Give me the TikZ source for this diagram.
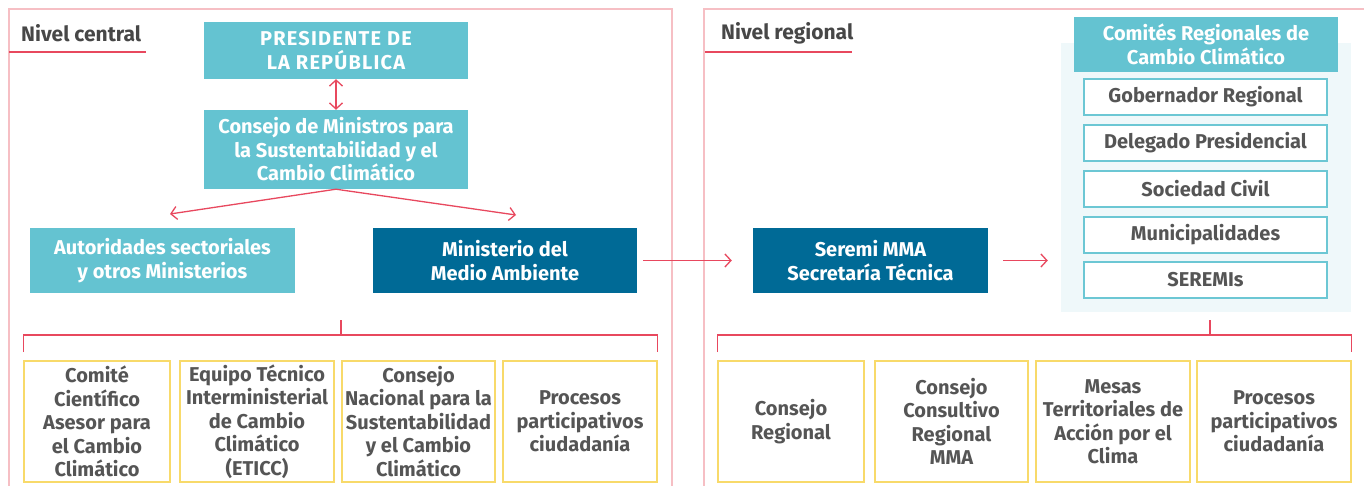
\documentclass[tikz,border=0pt]{standalone}
\usepackage{fontspec}
\setmainfont{Fira Sans}
\usetikzlibrary{arrows.meta}
\definecolor{cteal}{HTML}{64C3D1}
\definecolor{cdark}{HTML}{006A96}
\definecolor{cpink}{HTML}{F6BFC4}
\definecolor{cred}{HTML}{E8485E}
\definecolor{cyel}{HTML}{F8DA6A}
\definecolor{cgrey}{HTML}{555555}
\definecolor{clabel}{HTML}{474747}
\definecolor{cbg}{HTML}{EFF8FA}
\definecolor{cbox}{HTML}{6CC7D4}
\tikzset{
  box/.style={rectangle, inner sep=0pt, align=center, font=\bfseries\fontsize{20}{23.5}\selectfont},
  tealbox/.style={box, fill=cteal, text=white},
  darkbox/.style={box, fill=cdark, text=white},
  whitebox/.style={box, fill=white, draw=cbox, line width=1.5pt, text=cgrey, minimum width=243pt, minimum height=36pt},
  yelbox/.style={box, draw=cyel, line width=1.5pt, text=cgrey, minimum height=121pt},
  lvl/.style={inner sep=0pt, anchor=west, font=\bfseries\fontsize{21}{24}\selectfont, text=clabel},
  panel/.style={draw=cpink, line width=1.3pt},
  uline/.style={draw=cred, line width=2.5pt},
  conn/.style={draw=cred, line width=1.3pt},
  tip/.style={arrows={-Straight Barb[length=6pt,width=13pt]}},
  dtip/.style={arrows={Straight Barb[length=6pt,width=13pt]-Straight Barb[length=6pt,width=13pt]}}
}
\begin{document}
\begin{tikzpicture}[x=1pt,y=-1pt]
\useasboundingbox (0,0) rectangle (1364,486);
\clip (0,0) rectangle (1364,486);
\fill[white] (0,0) rectangle (1364,486);
% panels
\draw[panel] (9,492) -- (9,9) -- (672,9) -- (672,492);
\draw[panel] (704,492) -- (704,9) -- (1370,9);
% level labels
\node[lvl] (lc) at (21,33) {Nivel central};
\draw[uline] (9,52) -- (146,52);
\node[lvl] (lr) at (721,33) {Nivel regional};
\draw[uline] (705,52) -- (852,52);
% central nodes
\node[tealbox, minimum width=264pt, minimum height=57pt] (pres) at (336,50.5)
  {\addfontfeatures{LetterSpace=6}PRESIDENTE DE\\\addfontfeatures{LetterSpace=6}LA REPÚBLICA};
\node[tealbox, minimum width=264pt, minimum height=79pt] (cons) at (336,149.5)
  {Consejo de Ministros para\\la Sustentabilidad y el\\Cambio Climático};
\node[tealbox, minimum width=265pt, minimum height=65pt] (auto) at (162.5,260.5)
  {Autoridades sectoriales\\y otros Ministerios};
\node[darkbox, minimum width=264pt, minimum height=65pt] (mma) at (505,260.5)
  {Ministerio del\\Medio Ambiente};
% regional nodes
\node[darkbox, minimum width=235pt, minimum height=65pt] (seremi) at (870.5,260.5)
  {Seremi MMA\\Secretaría Técnica};
\node[rectangle, fill=cbg, inner sep=0pt, minimum width=290pt, minimum height=269pt] (bg) at (1206,177.5) {};
\node[tealbox, minimum width=264pt, minimum height=55pt] (comh) at (1206,44.5)
  {Comités Regionales de\\Cambio Climático};
\node[whitebox] (gob) at (1205.5,97) {Gobernador Regional};
\node[whitebox] (del) at (1205.5,143) {Delegado Presidencial};
\node[whitebox] (soc) at (1205.5,189) {Sociedad Civil};
\node[whitebox] (mun) at (1205.5,235) {Municipalidades};
\node[whitebox] (ser) at (1205.5,280) {SEREMIs};
% bottom central boxes
\node[yelbox, minimum width=146pt] (b1) at (97,421.5) {Comité\\Científico\\Asesor para\\el Cambio\\Climático};
\node[yelbox, minimum width=154pt] (b2) at (257,421.5) {Equipo Técnico\\Interministerial\\de Cambio\\Climático\\(ETICC)};
\node[yelbox, minimum width=153pt] (b3) at (418.5,421.5) {Consejo\\Nacional para la\\Sustentabilidad\\y el Cambio\\Climático};
\node[yelbox, minimum width=154pt] (b4) at (580,421.5) {Procesos\\participativos\\ciudadanía};
% bottom regional boxes
\node[yelbox, minimum width=146pt] (r1) at (791,421.5) {Consejo\\Regional};
\node[yelbox, minimum width=153pt] (r2) at (951.5,421.5) {Consejo\\Consultivo\\Regional\\MMA};
\node[yelbox, minimum width=154pt] (r3) at (1113,421.5) {Mesas\\Territoriales de\\Acción por el\\Clima};
\node[yelbox, minimum width=154pt] (r4) at (1274,421.5) {Procesos\\participativos\\ciudadanía};
% connectors
\draw[conn, dtip] (pres) -- (cons);
\coordinate (ca) at (170,214);
\coordinate (cm) at (516,215);
\draw[conn, tip] (cons.south) -- (ca);
\draw[conn, tip] (cons.south) -- (cm);
\draw[conn, tip, shorten <=6pt, shorten >=21pt] (mma) -- (seremi);
\draw[conn, tip, shorten <=15pt, shorten >=13pt] (seremi.east) -- (seremi.east -| bg.west);
% brackets
\coordinate (lt) at (341,320);
\draw[conn] (lt) -- (341,335);
\draw[conn] (b1.north west |- 0,352) -- (b1.north west |- 0,335) -- (b4.north east |- 0,335) -- (b4.north east |- 0,352);
\coordinate (rt) at (1210,320);
\draw[conn] (rt) -- (1210,335);
\draw[conn] (r1.north west |- 0,352) -- (r1.north west |- 0,335) -- (r4.north east |- 0,335) -- (r4.north east |- 0,352);
\end{tikzpicture}
\end{document}
